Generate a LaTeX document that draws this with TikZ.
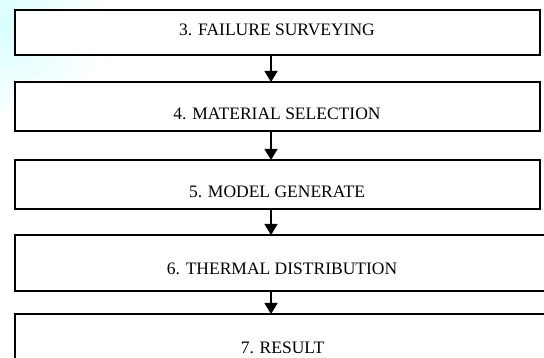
\documentclass[tikz,border=0pt]{standalone}
\usepackage{fontspec}
\setmainfont{Liberation Serif}
\usetikzlibrary{arrows.meta}
\begin{document}
\begin{tikzpicture}[x=1pt,y=-1pt,
  stepbox/.style={draw=black, line width=1.3pt, fill=white, rectangle, inner sep=0pt, outer sep=0pt},
  lbl/.style={anchor=base, inner sep=0pt, font=\fontsize{17.5}{20}\selectfont},
  arr/.style={line width=1.3pt, -{Triangle[length=11pt,width=13pt]}}]
\useasboundingbox (0,0) rectangle (544,358);
\begin{scope}
\clip (0,0) rectangle (544,358);
\shade[inner color=cyan!16, outer color=white] (0,25) ellipse (110 and 95);
\node[stepbox, minimum width=525pt, minimum height=45pt] (b1) at (277.5,32.5) {};
\node[stepbox, minimum width=525pt, minimum height=49pt] (b2) at (277.5,106.5) {};
\node[stepbox, minimum width=525pt, minimum height=49pt] (b3) at (277.5,184.5) {};
\node[stepbox, minimum width=535pt, minimum height=56pt] (b4) at (282.5,263) {};
\node[stepbox, minimum width=535pt, minimum height=60pt] (b5) at (282.5,344) {};
\end{scope}
\node[lbl] (t1) at (277,36) {3. FAILURE SURVEYING};
\node[lbl] (t2) at (277,120) {4. MATERIAL SELECTION};
\node[lbl] (t3) at (277,198) {5. MODEL GENERATE};
\node[lbl] (t4) at (282,274.5) {6. THERMAL DISTRIBUTION};
\node[lbl] (t5) at (282.5,353) {7. RESULT};
\coordinate (ax) at (271,0);
\draw[arr] (b1.south -| ax) -- (b2.north -| ax);
\draw[arr] (b2.south -| ax) -- (b3.north -| ax);
\draw[arr] (b3.south -| ax) -- (b4.north -| ax);
\draw[arr] (b4.south -| ax) -- (b5.north -| ax);
\end{tikzpicture}
\end{document}
